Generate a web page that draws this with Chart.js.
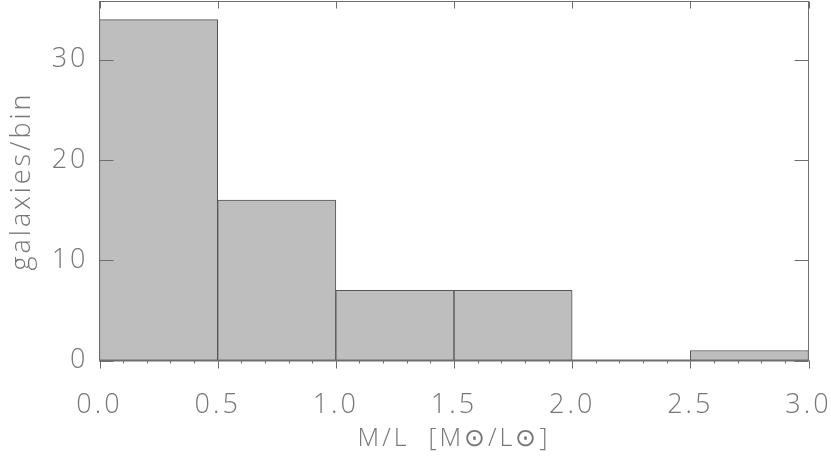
<!DOCTYPE html>
<html>
<head>
<meta charset="utf-8">
<script src="https://cdn.jsdelivr.net/npm/chart.js@4.4.1/dist/chart.umd.min.js"></script>
<style>
  html, body { margin: 0; padding: 0; background: #fff; }
  canvas { display: block; }
</style>
</head>
<body>
<canvas id="hist" width="831" height="460"></canvas>
<script>
// histogram of M/L values
const binEdges = [0.0, 0.5, 1.0, 1.5, 2.0, 2.5, 3.0];
const counts = [34, 16, 7, 7, 0, 1];
const xTicks = [0.0, 0.5, 1.0, 1.5, 2.0, 2.5, 3.0];
const yTicks = [0, 10, 20, 30];
const yMax = 35.8;

const ink = '#777777';
const frameColor = '#6e6e6e';

// the reference font is wide; canvas resets drop this, so set it on every pass
const wideText = {
    id: 'wideText',
    beforeLayout(chart) { chart.ctx.letterSpacing = '3px'; },
    beforeDraw(chart) { chart.ctx.letterSpacing = '3px'; },
};

// frame + IDL style tick marks, placed through the chart's scales
const frameTicks = {
    id: 'frameTicks',
    afterDatasetsDraw(chart) {
        const { ctx, chartArea: a, scales: { x, y } } = chart;
        ctx.save();
        ctx.strokeStyle = frameColor;
        ctx.lineWidth = 1;
        ctx.strokeRect(a.left, a.top, a.right - a.left, a.bottom - a.top);

        ctx.beginPath();
        yTicks.forEach(v => {
            const py = Math.round(y.getPixelForValue(v)) + 0.5;
            ctx.moveTo(a.left, py); ctx.lineTo(a.left + 14, py);
            ctx.moveTo(a.right, py); ctx.lineTo(a.right - 14, py);
        });
        xTicks.forEach(v => {
            const px = Math.round(x.getPixelForValue(v)) + 0.5;
            ctx.moveTo(px, a.top); ctx.lineTo(px, a.top + 7);
            ctx.moveTo(px, a.bottom); ctx.lineTo(px, a.bottom + 8);
        });
        // minor ticks every 0.1 along the bottom
        for (let i = 0; i <= 30; i++) {
            if (i % 5 === 0) continue;
            const px = Math.round(x.getPixelForValue(i / 10)) + 0.5;
            ctx.moveTo(px, a.bottom); ctx.lineTo(px, a.bottom + 3);
        }
        ctx.stroke();

        // heavier baseline
        ctx.lineWidth = 2;
        ctx.beginPath();
        ctx.moveTo(a.left, a.bottom); ctx.lineTo(a.right, a.bottom);
        ctx.stroke();
        ctx.restore();
    }
};

const fontFamily = "'Open Sans', 'DejaVu Sans', sans-serif";

new Chart(document.getElementById('hist'), {
    type: 'bar',
    data: {
        datasets: [{
            data: counts.map((c, i) => ({ x: (binEdges[i] + binEdges[i + 1]) / 2, y: c })),
            backgroundColor: '#bebebe',
            borderColor: '#555555',
            borderWidth: 1,
            borderSkipped: 'bottom',
            barPercentage: 1,
            categoryPercentage: 1,
        }],
    },
    options: {
        responsive: false,
        devicePixelRatio: 1,
        animation: false,
        layout: { padding: { top: 1.5, right: 22.5, left: 0, bottom: 0 } },
        plugins: { legend: { display: false }, tooltip: { enabled: false } },
        scales: {
            x: {
                type: 'linear',
                offset: false,
                min: binEdges[0],
                max: binEdges[binEdges.length - 1],
                grid: { display: false },
                border: { display: false },
                afterBuildTicks: s => { s.ticks = xTicks.map(v => ({ value: v })); },
                afterFit: s => { s.height = 99.5; s.paddingLeft = 0; s.paddingRight = 0; },
                ticks: {
                    callback: v => v.toFixed(1),
                    color: ink,
                    padding: 21,
                    maxRotation: 0,
                    font: { family: fontFamily, size: 27, weight: 300 },
                },
                title: {
                    display: true,
                    text: 'M/L  [M\u2299/L\u2299]',
                    color: ink,
                    padding: { top: 0, bottom: 6 },
                    font: { family: fontFamily, size: 25, weight: 300 },
                },
            },
            y: {
                min: 0,
                max: yMax,
                grid: { display: false },
                border: { display: false },
                afterBuildTicks: s => { s.ticks = yTicks.map(v => ({ value: v })); },
                afterFit: s => { s.width = 99.5; s.paddingTop = 0; s.paddingBottom = 0; },
                ticks: {
                    color: ink,
                    padding: 3,
                    font: { family: fontFamily, size: 27, weight: 300 },
                },
                title: {
                    display: true,
                    text: 'galaxies/bin',
                    color: ink,
                    padding: { top: 6, bottom: 0 },
                    font: { family: fontFamily, size: 27, weight: 300 },
                },
            },
        },
    },
    plugins: [wideText, frameTicks],
});
</script>
</body>
</html>
